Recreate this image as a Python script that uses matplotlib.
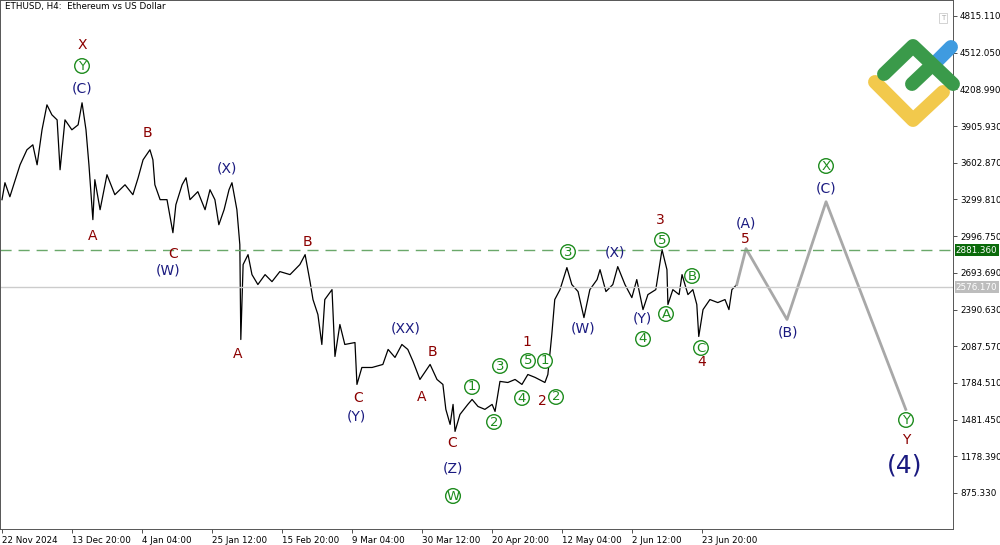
import matplotlib
matplotlib.use("Agg")
import matplotlib.pyplot as plt
from matplotlib.lines import Line2D

days = [0,0.9,2.4,5.5,7.6,9.4,10.7,12.2,13.7,15.2,16.8,17.7,19.2,21.3,23.2,24.4,25.6,26.5,27.7,28.3,29.9,32.0,34.4,37.5,39.9,41.5,43.0,45.1,46.0,46.6,48.2,50.3,52.1,53.0,54.9,56.1,57.3,59.7,61.9,63.4,64.9,66.1,67.7,69.2,70.1,71.6,72.5,72.8,73.5,75.0,76.2,78.0,80.2,82.3,84.7,87.8,90.8,92.4,93.9,94.8,96.3,97.5,98.4,100.6,101.5,103.0,104.5,107.6,108.2,109.7,112.8,116.1,117.7,119.8,121.9,123.7,125.3,127.4,130.5,132.6,134.4,135.3,136.6,137.5,138.1,139.6,142.0,143.3,145.1,147.2,149.4,150.3,151.8,154.2,156.4,158.5,160.3,162.5,165.5,166.4,167.6,168.5,170.1,172.2,173.7,175.6,177.4,179.2,181.4,182.3,184.1,186.2,187.7,189.9,192.0,193.5,195.4,196.9,199.3,201.2,202.7,203.0,204.5,206.4,207.3,209.1,210.6,211.8,212.4,213.7,215.8,218.2,220.4,221.6,222.5,224.0]
price = [3298,3438,3322,3586,3710,3751,3586,3875,4081,3999,3957,3545,3957,3875,3916,4098,3875,3586,3133,3463,3215,3504,3339,3421,3339,3479,3627,3710,3627,3421,3298,3298,3025,3256,3421,3479,3298,3364,3215,3380,3298,3091,3215,3380,3438,3215,2926,2143,2762,2844,2679,2597,2679,2621,2704,2679,2762,2844,2621,2473,2349,2102,2473,2555,2003,2267,2102,2118,1772,1912,1912,1937,2061,1995,2102,2061,1962,1813,1937,1813,1772,1566,1442,1607,1384,1524,1607,1648,1590,1566,1607,1549,1797,1788,1813,1772,1854,1830,1788,1854,2184,2473,2555,2737,2597,2539,2324,2555,2638,2720,2539,2597,2745,2597,2489,2638,2390,2514,2555,2885,2720,2432,2555,2514,2679,2514,2555,2432,2168,2390,2473,2448,2473,2390,2555,2597]
proj_days = [224.0,226.8,239.3,251.2,275.5]
proj_price = [2597,2894,2308,3281,1566]
level_green = 2881.36
level_grey = 2576.17
yticks = [4815.110,4512.050,4208.990,3905.930,3602.870,3299.810,2996.750,2693.690,2390.630,2087.570,1784.510,1481.450,1178.390,875.330]
xtick_days = [0,21.33,42.67,64,85.33,106.67,128,149.33,170.67,192,213.33]
xtick_labels = ["22 Nov 2024","13 Dec 20:00","4 Jan 04:00","25 Jan 12:00","15 Feb 20:00","9 Mar 04:00","30 Mar 12:00","20 Apr 20:00","12 May 04:00","2 Jun 12:00","23 Jun 20:00"]

RED = "#8b0000"; NAVY = "#1a1a80"; GREEN = "#1e8c1e"
labels = [
 (82,45,"X",RED,False),(82,66,"Y",GREEN,True),(82,88,"(C)",NAVY,False),
 (147,133,"B",RED,False),(93,236,"A",RED,False),(173,254,"C",RED,False),(168,270,"(W)",NAVY,False),
 (227,169,"(X)",NAVY,False),(307,242,"B",RED,False),(238,354,"A",RED,False),
 (358,398,"C",RED,False),(356,417,"(Y)",NAVY,False),(406,329,"(XX)",NAVY,False),(432,352,"B",RED,False),
 (422,397,"A",RED,False),(452,443,"C",RED,False),(453,468,"(Z)",NAVY,False),(453,496,"W",GREEN,True),
 (472,387,"1",GREEN,True),(494,422,"2",GREEN,True),(500,366,"3",GREEN,True),(522,398,"4",GREEN,True),
 (528,361,"5",GREEN,True),(527,342,"1",RED,False),(545,361,"1",GREEN,True),(542,401,"2",RED,False),
 (556,397,"2",GREEN,True),(568,252,"3",GREEN,True),(583,328,"(W)",NAVY,False),(615,252,"(X)",NAVY,False),
 (642,319,"(Y)",NAVY,False),(643,339,"4",GREEN,True),(660,220,"3",RED,False),(662,240,"5",GREEN,True),
 (666,314,"A",GREEN,True),(692,276,"B",GREEN,True),(701,348,"C",GREEN,True),(702,362,"4",RED,False),
 (746,223,"(A)",NAVY,False),(745,239,"5",RED,False),(788,333,"(B)",NAVY,False),(826,166,"X",GREEN,True),
 (826,188,"(C)",NAVY,False),(906,420,"Y",GREEN,True),(906,440,"Y",RED,False),
]

fig = plt.figure(figsize=(10,5.45), dpi=100)
ax = fig.add_axes([0, 16/545, 953/1000, 529/545])
ax.set_xlim(-0.61, 289.9)
ax.set_ylim(578, 4947)
ax.plot(days, price, color="black", lw=0.9)
ax.plot(proj_days, proj_price, color="#a8a8a8", lw=2)
ax.axhline(level_green, color="#6aa86a", lw=1, dashes=(8,5))
ax.axhline(level_grey, color="#cccccc", lw=1)
ax.yaxis.tick_right()
ax.set_yticks(yticks)
ax.set_yticklabels([f"{v:.3f}" for v in yticks], fontsize=6.3)
ax.set_xticks(xtick_days)
ax.set_xticklabels(xtick_labels, fontsize=6.3, ha="left")
ax.tick_params(length=3, width=0.6, pad=2, color="#333333")
for s in ax.spines.values():
    s.set_linewidth(0.7); s.set_color("#555555")
ax.text(1.003, (level_green-578)/(4947-578), f"{level_green:.3f}", transform=ax.transAxes, fontsize=6.3,
        color="white", va="center", ha="left", bbox=dict(boxstyle="square,pad=0.15", fc="#0a6a0a", ec="none"))
ax.text(1.003, (level_grey-578)/(4947-578), f"{level_grey:.3f}", transform=ax.transAxes, fontsize=6.3,
        color="white", va="center", ha="left", bbox=dict(boxstyle="square,pad=0.15", fc="#bdbdbd", ec="none"))
fig.text(5/1000, 1-7/545, "ETHUSD, H4:  Ethereum vs US Dollar", fontsize=6.3, va="center", ha="left")
fig.text(943/1000, 1-18/545, "T", fontsize=5, color="#aaaaaa", ha="center", va="center",
         bbox=dict(boxstyle="square,pad=0.25", fc="white", ec="#cccccc", lw=0.6))

for x, y, t, c, circ in labels:
    if circ:
        fig.text(x/1000, 1-y/545, t, color=c, fontsize=9.5, ha="center", va="center",
                 bbox=dict(boxstyle="circle,pad=0.06", fc="white", ec=c, lw=1.0))
    else:
        fig.text(x/1000, 1-y/545, t, color=c, fontsize=10, ha="center", va="center")
fig.text(905/1000, 1-465/545, "(4)", color=NAVY, fontsize=18, ha="center", va="center")

def seg(pts, col):
    fig.add_artist(Line2D([p[0]/1000 for p in pts], [1-p[1]/545 for p in pts], color=col, lw=10,
                          solid_capstyle="round", solid_joinstyle="round", transform=fig.transFigure))
seg([(935,63),(951,47)], "#3f9be0")
seg([(875,82),(913,120),(943,92)], "#f2c94c")
seg([(884,74),(913,46),(953,84)], "#3a9a4a")
seg([(912,84),(931,66)], "#3a9a4a")

fig.savefig("out.png", dpi=100)
